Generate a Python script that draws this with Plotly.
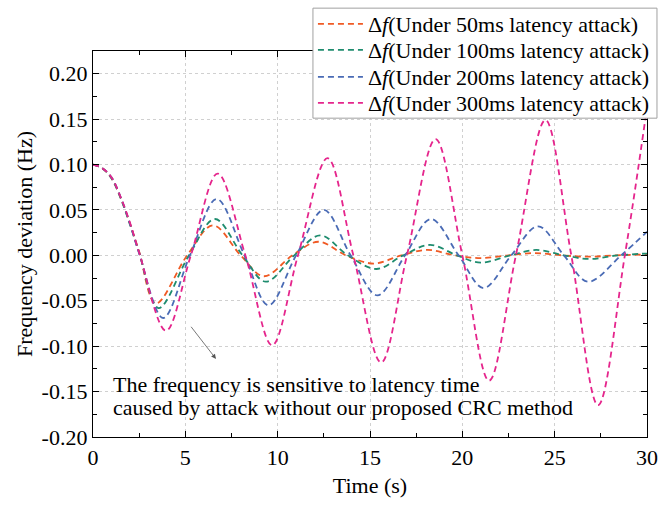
import plotly.graph_objects as go

# ---- Data (extrema, zero crossings and start-up samples) ----
t_50 = [0, 0.5, 1.0, 1.5, 2.0, 2.5, 3.4, 5.1, 6.5, 8.0, 9.25, 10.8, 12.2, 13.7, 15.2, 16.7,
        18.1, 19.6, 21.0, 22.5, 23.9, 25.4, 26.8, 28.3, 30]
f_50 = [0.1, 0.096, 0.085, 0.063, 0.035, 0.004, -0.053, 0.0, 0.033, 0.0, -0.023, 0.0, 0.015, 0.0,
        -0.009, 0.0, 0.006, 0.0, -0.003, 0.0, 0.0025, 0.0, -0.0015, 0.0, 0.001]

t_100 = [0, 0.5, 1.0, 1.5, 2.0, 2.5, 3.55, 5.2, 6.6, 8.1, 9.35, 10.9, 12.3, 13.8, 15.35, 16.8,
         18.25, 19.7, 21.0, 22.6, 24.0, 25.5, 26.9, 28.4, 30]
f_100 = [0.1, 0.096, 0.085, 0.063, 0.034, 0.003, -0.058, 0.0, 0.040, 0.0, -0.029, 0.0, 0.022, 0.0,
         -0.015, 0.0, 0.0115, 0.0, -0.008, 0.0, 0.006, 0.0, -0.004, 0.0, 0.002]

t_200 = [0, 0.5, 1.0, 1.5, 2.0, 2.5, 3.8, 5.25, 6.7, 8.2, 9.5, 11.0, 12.5, 13.95, 15.4, 16.9,
         18.3, 19.8, 21.15, 22.65, 24.1, 25.5, 26.8, 28.6, 30]
f_200 = [0.1, 0.096, 0.086, 0.064, 0.035, 0.002, -0.069, 0.0, 0.062, 0.0, -0.055, 0.0, 0.050, 0.0,
         -0.044, 0.0, 0.040, 0.0, -0.036, 0.0, 0.032, 0.0, -0.029, 0.0, 0.026]

t_300 = [0, 0.5, 1.0, 1.5, 2.0, 2.5, 3.95, 5.3, 6.75, 8.25, 9.7, 11.1, 12.7, 14.1, 15.6, 17.0,
         18.55, 20.0, 21.45, 22.9, 24.5, 25.9, 27.35, 28.8, 30]
f_300 = [0.1, 0.096, 0.086, 0.064, 0.036, 0.003, -0.083, 0.0, 0.090, 0.0, -0.099, 0.0, 0.107, 0.0,
         -0.118, 0.0, 0.128, 0.0, -0.138, 0.0, 0.149, 0.0, -0.165, 0.0, 0.163]

series_names = [
    "Δ<i>f</i>(Under 50ms latency attack)",
    "Δ<i>f</i>(Under 100ms latency attack)",
    "Δ<i>f</i>(Under 200ms latency attack)",
    "Δ<i>f</i>(Under 300ms latency attack)",
]
series_colors = ["#F05A24", "#1E8C6E", "#4A6BB5", "#E5258C"]

x_ticks = [0, 5, 10, 15, 20, 25, 30]
y_ticks = [-0.20, -0.15, -0.10, -0.05, 0.00, 0.05, 0.10, 0.15, 0.20]
y_tick_labels = ["-0.20", "-0.15", "-0.10", "-0.05", "0.00", "0.05", "0.10", "0.15", "0.20"]

annotation_lines = [
    "The frequency is sensitive to latency time",
    "caused by attack without our proposed CRC method",
]

FONT = "Liberation Serif, Times New Roman, serif"
FS = 22

legend_ids = ["legend", "legend2", "legend3", "legend4"]
legend_row_y = [1.070, 1.0026, 0.9326, 0.8653]   # paper y of each legend row

fig = go.Figure()
for t, f, name, color, lid in zip([t_50, t_100, t_200, t_300], [f_50, f_100, f_200, f_300],
                                  series_names, series_colors, legend_ids):
    fig.add_trace(go.Scatter(
        x=t, y=f, mode="lines", name=name, legend=lid,
        line=dict(color=color, width=1.8, dash="6px,4px", shape="spline", smoothing=1.0),
    ))

# legend frame
fig.add_shape(type="rect", xref="paper", yref="paper", x0=0.397, x1=1.018, y0=0.826, y1=1.111,
              line=dict(color="#a0a0a0", width=1), fillcolor="white", layer="above")

# arrow
fig.add_annotation(x=6.66, y=-0.114, ax=5.25, ay=-0.077, xref="x", yref="y",
                   axref="x", ayref="y", text="", showarrow=True,
                   arrowhead=2, arrowsize=1.2, arrowwidth=0.8, arrowcolor="#555555")
# text lines
for i, line in enumerate(annotation_lines):
    fig.add_annotation(x=1.0, y=[-0.1418, -0.168][i], xref="x", yref="y",
                       text=line, showarrow=False, xanchor="left", yanchor="middle",
                       font=dict(family=FONT, size=FS, color="black"))

axis_common = dict(
    showline=True, linecolor="black", linewidth=1.3, mirror="ticks",
    ticks="inside", ticklen=6, tickwidth=1.3, tickcolor="black",
    showgrid=True, gridcolor="#d0d0d0", griddash="dot", gridwidth=1,
    zeroline=False,
    tickfont=dict(family=FONT, size=FS, color="black"),
)

fig.update_xaxes(
    range=[0, 30], tickvals=x_ticks, ticktext=[str(v) for v in x_ticks],
    title=dict(text="Time (s)", font=dict(family=FONT, size=FS, color="black"), standoff=9),
    minor=dict(ticks="inside", ticklen=4, tickwidth=1.3, tickcolor="black", dtick=2.5, showgrid=False),
    **axis_common,
)
fig.update_yaxes(
    range=[-0.2, 0.225], tickvals=y_ticks, ticktext=y_tick_labels,
    title=dict(text="Frequency deviation (Hz)", font=dict(family=FONT, size=FS, color="black"), standoff=2),
    minor=dict(ticks="inside", ticklen=4, tickwidth=1.3, tickcolor="black", dtick=0.025,
               tick0=0, showgrid=False),
    **axis_common,
)

legend_layout = {}
for lid, ly in zip(legend_ids, legend_row_y):
    legend_layout[lid] = dict(
        x=0.397, y=ly, xanchor="left", yanchor="middle",
        bgcolor="rgba(0,0,0,0)", borderwidth=0,
        font=dict(family=FONT, size=FS, color="black"),
        itemwidth=45,
    )

fig.update_layout(
    width=672, height=505,
    margin=dict(l=93, r=25, t=51, b=68, autoexpand=False),
    paper_bgcolor="white", plot_bgcolor="white",
    font=dict(family=FONT, size=FS, color="black"),
    showlegend=True,
    **legend_layout,
)

fig.write_html(
    "out.html",
    config={"displayModeBar": False},
    post_script="document.body.style.margin='0px';document.body.style.overflow='hidden';",
)
